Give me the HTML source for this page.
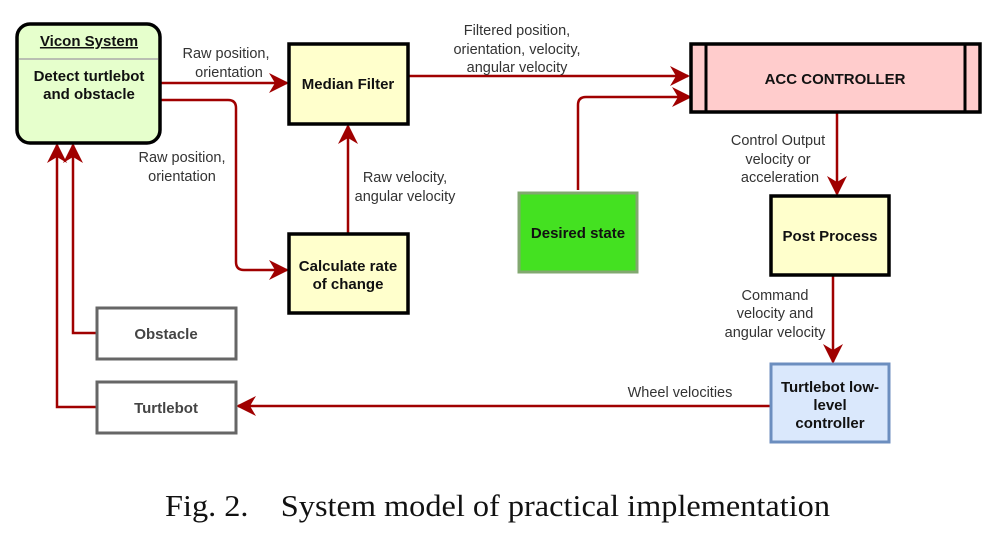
<!DOCTYPE html>
<html><head><meta charset="utf-8"><style>
body{margin:0;background:#fff;width:996px;height:533px;overflow:hidden}
svg{position:absolute;left:0;top:0}
text{font-family:"Liberation Sans",sans-serif}
.b{font-weight:bold;font-size:15px;fill:#111}
.l{font-size:14.5px;fill:#333}
</style></head><body>
<svg width="996" height="533" viewBox="0 0 996 533">
<defs>
<marker id="m" viewBox="0 0 10 10" refX="9" refY="5" markerWidth="20" markerHeight="20" markerUnits="userSpaceOnUse" orient="auto"><path d="M0,0 L10,5 L0,10 L3,5z" fill="#a00000"/></marker></defs>
<g fill="none" stroke="#a00000" stroke-width="2.5">
<path d="M160,83 H287" marker-end="url(#m)"/>
<path d="M160,100 H228 Q236,100 236,108 V262 Q236,270 244,270 H287" marker-end="url(#m)"/>
<path d="M348,234 V126" marker-end="url(#m)"/>
<path d="M408,76 H688" marker-end="url(#m)"/>
<path d="M578,190 V105 Q578,97 586,97 H690" marker-end="url(#m)"/>
<path d="M837,112 V194" marker-end="url(#m)"/>
<path d="M833,275 V362" marker-end="url(#m)"/>
<path d="M770,406 H238" marker-end="url(#m)"/>
<path d="M96,333 H73 V145" marker-end="url(#m)"/>
<path d="M96,407 H57 V145" marker-end="url(#m)"/>
</g>
<rect x="17" y="24" width="143" height="119" rx="13" fill="#e6ffcc" stroke="#000" stroke-width="3.5"/>
<line x1="19" y1="59" x2="158" y2="59" stroke="#aaa" stroke-width="1.5"/>
<text x="89" y="46" class="b" text-anchor="middle" text-decoration="underline">Vicon System</text>
<text x="89" y="81" class="b" text-anchor="middle">Detect turtlebot</text>
<text x="89" y="99" class="b" text-anchor="middle">and obstacle</text>
<rect x="289" y="44" width="119" height="80" fill="#ffffcc" stroke="#000" stroke-width="3.5"/>
<text x="348" y="89" class="b" text-anchor="middle">Median Filter</text>
<rect x="289" y="234" width="119" height="79" fill="#ffffcc" stroke="#000" stroke-width="3.5"/>
<text x="348" y="271" class="b" text-anchor="middle">Calculate rate</text>
<text x="348" y="289" class="b" text-anchor="middle">of change</text>
<rect x="691" y="44" width="289" height="68" fill="#ffcccc" stroke="#000" stroke-width="3.5"/>
<line x1="706" y1="44" x2="706" y2="112" stroke="#000" stroke-width="3"/>
<line x1="965" y1="44" x2="965" y2="112" stroke="#000" stroke-width="3"/>
<text x="835" y="84" class="b" text-anchor="middle">ACC CONTROLLER</text>
<rect x="519" y="193" width="118" height="79" fill="#44e121" stroke="#82a870" stroke-width="3"/>
<text x="578" y="238" class="b" text-anchor="middle">Desired state</text>
<rect x="771" y="196" width="118" height="79" fill="#ffffcc" stroke="#000" stroke-width="3.5"/>
<text x="830" y="241" class="b" text-anchor="middle">Post Process</text>
<rect x="771" y="364" width="118" height="78" fill="#dae8fc" stroke="#6c8ebf" stroke-width="3"/>
<text x="830" y="392" class="b" text-anchor="middle">Turtlebot low-</text>
<text x="830" y="410" class="b" text-anchor="middle">level</text>
<text x="830" y="428" class="b" text-anchor="middle">controller</text>
<rect x="97" y="308" width="139" height="51" fill="#fff" stroke="#666" stroke-width="3"/>
<text x="166" y="339" class="b" text-anchor="middle" style="fill:#444">Obstacle</text>
<rect x="97" y="382" width="139" height="51" fill="#fff" stroke="#666" stroke-width="3"/>
<text x="166" y="413" class="b" text-anchor="middle" style="fill:#444">Turtlebot</text>
<g class="l" text-anchor="middle">
<text x="226" y="58">Raw position,</text><text x="229" y="77">orientation</text>
<text x="182" y="162">Raw position,</text><text x="182" y="181">orientation</text>
<text x="405" y="182">Raw velocity,</text><text x="405" y="201">angular velocity</text>
<text x="517" y="35">Filtered position,</text><text x="517" y="54">orientation, velocity,</text><text x="517" y="72">angular velocity</text>
<text x="778" y="145">Control Output</text><text x="778" y="164">velocity or</text><text x="780" y="182">acceleration</text>
<text x="775" y="300">Command</text><text x="775" y="318">velocity and</text><text x="775" y="337">angular velocity</text>
<text x="680" y="397">Wheel velocities</text>
</g>
<text x="165" y="516" textLength="665" lengthAdjust="spacingAndGlyphs" style="font-family:'Liberation Serif',serif;font-size:31px;fill:#111" xml:space="preserve">Fig. 2.    System model of practical implementation</text>
</svg>
</body></html>
